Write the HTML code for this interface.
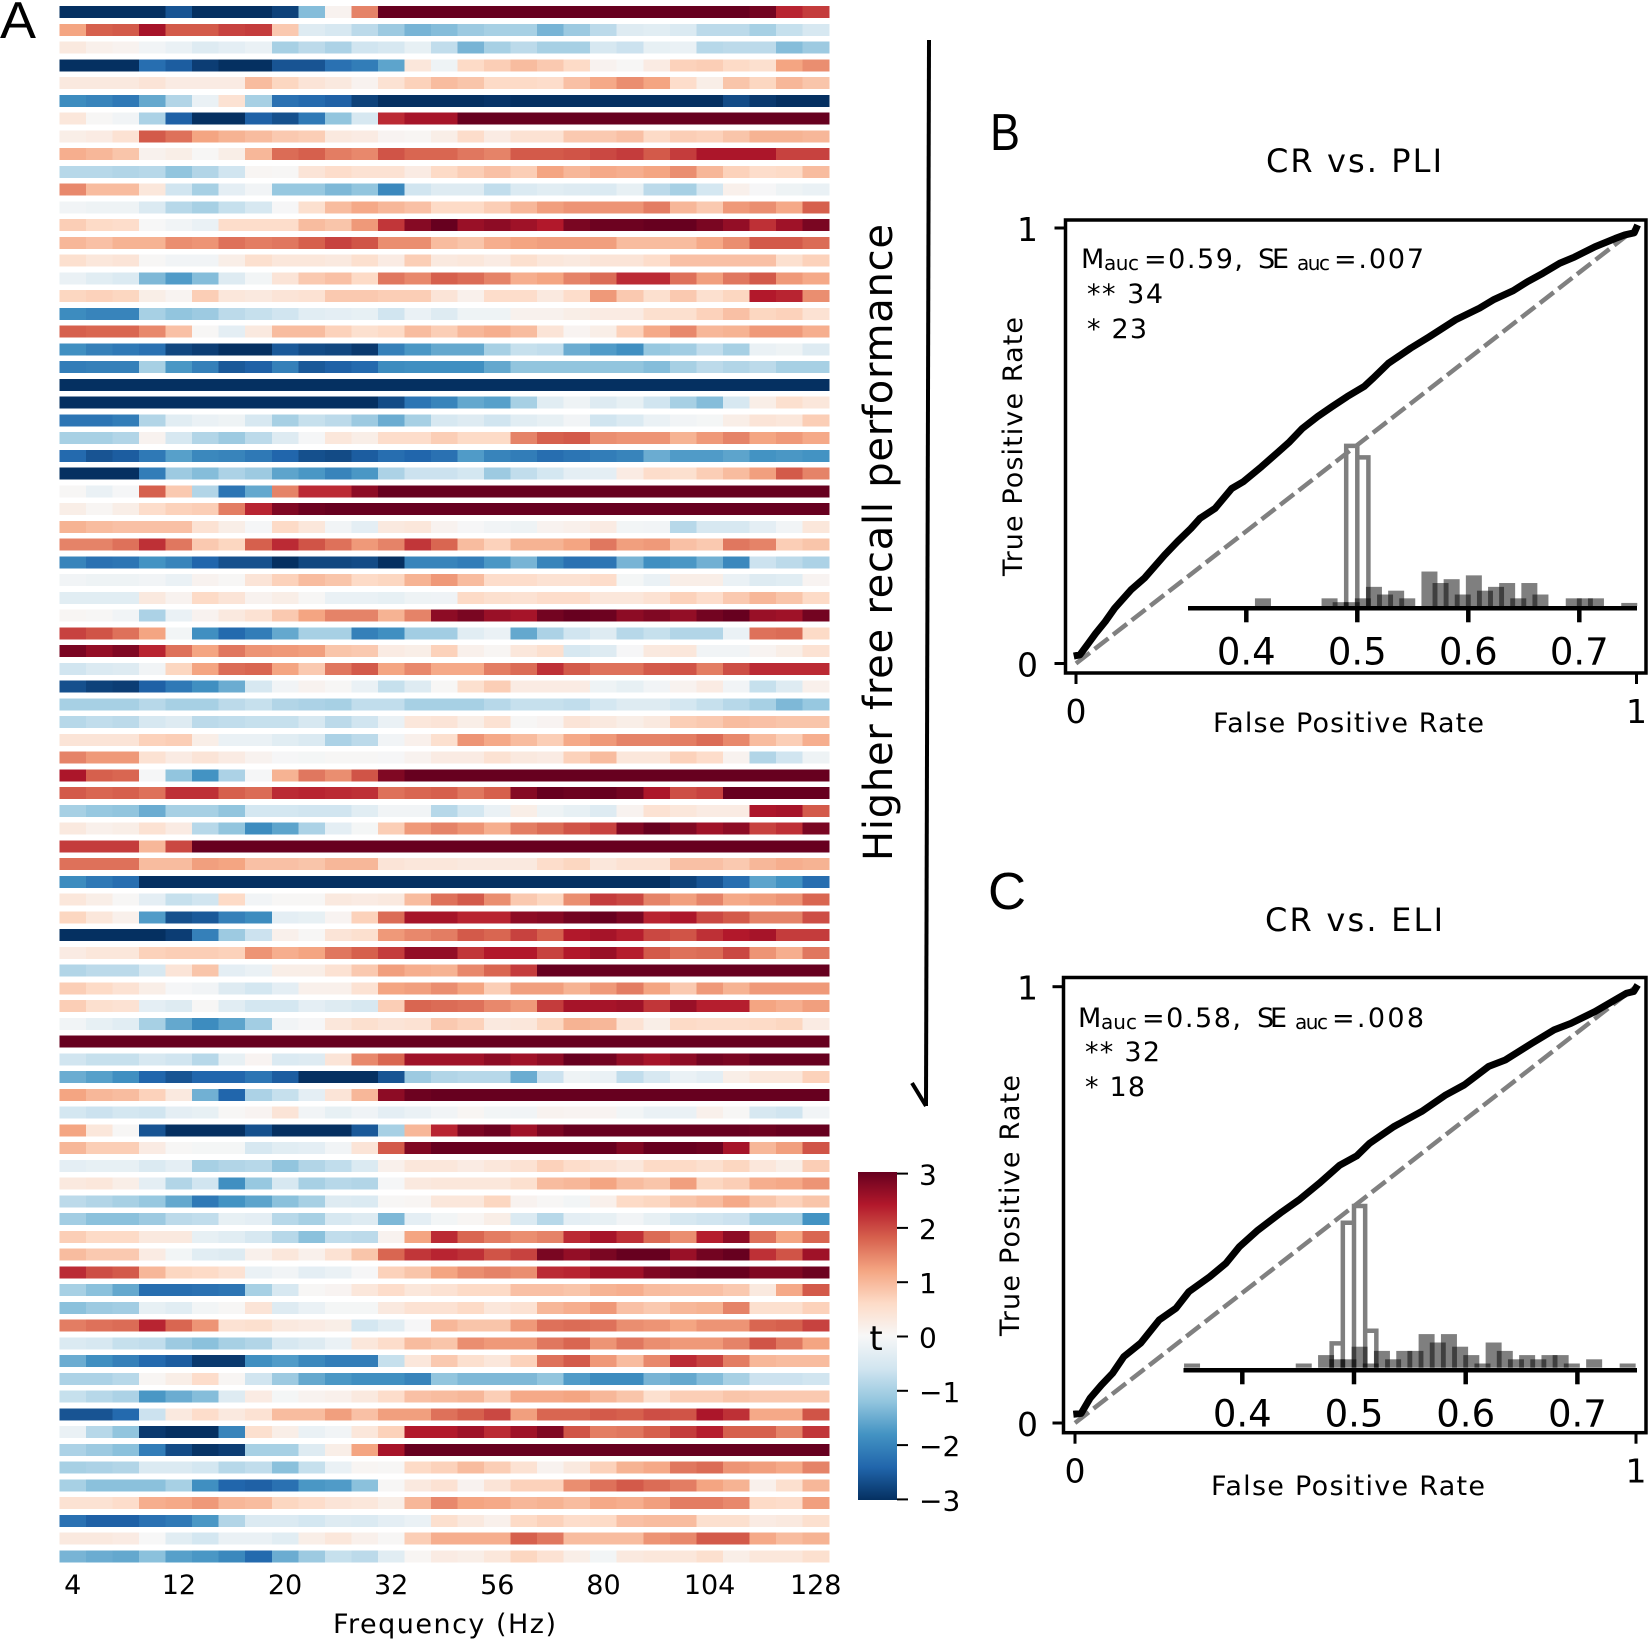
<!DOCTYPE html>
<html lang="en">
<head>
<meta charset="utf-8">
<title>Free recall classifier figure</title>
<style>
html,body{margin:0;padding:0;background:#fff;}
svg{display:block;}
text{font-family:"DejaVu Sans","Liberation Sans",sans-serif;fill:#000;}
.panel{font-family:"Liberation Sans",sans-serif;font-size:52px;}
</style>
</head>
<body>
<svg id="fig" xmlns="http://www.w3.org/2000/svg" width="1650" height="1641" viewBox="0 0 1650 1641">
  <rect x="0" y="0" width="1650" height="1641" fill="#fff"/>
  <defs>
    <linearGradient id="cbGrad" x1="0" y1="0" x2="0" y2="1">
      <stop offset="0" stop-color="#67001f"/><stop offset="0.1" stop-color="#b2182b"/>
      <stop offset="0.2" stop-color="#d6604d"/><stop offset="0.3" stop-color="#f4a582"/>
      <stop offset="0.4" stop-color="#fddbc7"/><stop offset="0.5" stop-color="#f7f7f7"/>
      <stop offset="0.6" stop-color="#d1e5f0"/><stop offset="0.7" stop-color="#92c5de"/>
      <stop offset="0.8" stop-color="#4393c3"/><stop offset="0.9" stop-color="#2166ac"/>
      <stop offset="1" stop-color="#053061"/>
    </linearGradient>
  </defs>

  <text class="panel" x="0" y="38" textLength="36" lengthAdjust="spacingAndGlyphs">A</text>
  <text class="panel" x="990" y="150" textLength="30" lengthAdjust="spacingAndGlyphs">B</text>
  <text class="panel" x="988" y="909" textLength="38" lengthAdjust="spacingAndGlyphs">C</text>

  <g id="heat"></g>
  <g id="heatTicks"></g>
  <text x="333" y="1633" font-size="27" textLength="223">Frequency (Hz)</text>

  <line x1="929" y1="40" x2="926" y2="1106" stroke="#000" stroke-width="4"/>
  <line x1="912" y1="1083" x2="926" y2="1106" stroke="#000" stroke-width="4"/>
  <text transform="translate(892,861) rotate(-90)" font-size="40" textLength="637">Higher free recall performance</text>

  <g id="cbar">
    <rect x="858" y="1172" width="39" height="328" fill="url(#cbGrad)"/>
    <text x="876" y="1350" font-size="34" text-anchor="middle">t</text>
  </g>

  <g id="panelB">
    <text x="1266" y="172" font-size="32" textLength="176">CR vs. PLI</text>
    <text transform="translate(1022,576) rotate(-90)" font-size="27" textLength="259">True Positive Rate</text>
    <text x="1213" y="732" font-size="27" textLength="271">False Positive Rate</text>
    <g font-size="27">
      <text x="1081" y="268" textLength="22">M</text>
      <text x="1104" y="270" font-size="20" textLength="35">auc</text>
      <text x="1144" y="268" textLength="99">=0.59,</text>
      <text x="1258" y="268" textLength="31">SE</text>
      <text x="1297" y="270" font-size="20" textLength="33">auc</text>
      <text x="1334" y="268" textLength="90">=.007</text>
      <text x="1087" y="303" xml:space="preserve" textLength="76">** 34</text>
      <text x="1087" y="338" xml:space="preserve" textLength="60">* 23</text>
    </g>
  </g>

  <g id="panelC">
    <text x="1265" y="931" font-size="32" textLength="178">CR vs. ELI</text>
    <text transform="translate(1019,1336) rotate(-90)" font-size="27" textLength="261">True Positive Rate</text>
    <text x="1211" y="1495" font-size="27" textLength="274">False Positive Rate</text>
    <g font-size="27">
      <text x="1078" y="1027" textLength="22">M</text>
      <text x="1101" y="1029" font-size="20" textLength="36">auc</text>
      <text x="1142" y="1027" textLength="99">=0.58,</text>
      <text x="1257" y="1027" textLength="30">SE</text>
      <text x="1295" y="1029" font-size="20" textLength="33">auc</text>
      <text x="1332" y="1027" textLength="92">=.008</text>
      <text x="1085" y="1061" xml:space="preserve" textLength="75">** 32</text>
      <text x="1085" y="1096" xml:space="preserve" textLength="60">* 18</text>
    </g>
  </g>
</svg>

<script>
const frequencyTickLabels = ['4','12','20','32','56','80','104','128'];
const frequencyTickColumns = [0,4,8,12,16,20,24,28];
const colorbarTickValues = [3,2,1,0,-1,-2,-3];
const colorbarTickLabels = ['3','2','1','0','\u22121','\u22122','\u22123'];

const tValues = [
[-3,-3,-3,-3,-2.6,-3,-3,-3,-2.8,-1.3,.1,1.5,3,3,3,3,3,3,3,3,3,3,3,3,3,3,2.9,2.3,2.1],
[1.2,1.8,1.85,2.5,1.85,1.85,2.05,2.1,.8,-.4,-.5,-.8,-1.1,-1.4,-1.3,-1.1,-1,-1,-1.4,-1.1,-.8,-.4,-.35,-.45,-.8,-.8,-1,-.7,-.5],
[.3,.15,.1,-.1,-.2,-.4,-.3,-.2,-1,-.8,-.95,-.6,-.5,-.25,-.75,-1.4,-1,-.8,-1,-1,-.5,-.65,-.25,-.2,-.85,-.8,-.8,-1.3,-1.1],
[-3,-3,-3,-2.3,-2.5,-2.85,-3,-3,-2.6,-2.6,-2.25,-2.1,-1.6,.35,-.15,.6,.75,.95,.8,.6,.1,.03,.25,.7,.75,.6,.5,1.2,1.4],
[.3,.3,.3,.4,.25,.25,.25,.95,.65,.4,.3,.1,.45,.7,.95,.85,.6,.6,.55,.9,1.15,1.4,1.2,.55,.2,.85,.65,1,.85],
[-1.9,-2,-2.15,-1.55,-.9,-.2,.45,-1,-2.25,-2.35,-2.45,-2.8,-3,-3,-3,-3,-2.95,-3,-3,-3,-3,-3,-3,-3,-3,-2.7,-2.9,-3,-3],
[.35,.02,-.1,-.95,-2.45,-3,-3,-2.45,-2.65,-2.15,-1.2,-.5,2.25,2.5,2.5,3,3,3,3,3,3,3,3,3,3,3,3,3,3],
[.2,.25,.45,1.85,1.65,1.2,1.05,.95,.8,.75,.3,.25,.08,.05,.2,.55,.25,.45,.45,.8,.8,.9,.6,.75,.7,.85,1.05,1.05,1],
[1.1,1,.85,.12,.2,.03,.2,1,1.7,1.8,1.55,1.45,1.9,1.75,1.75,1.6,1.5,1.85,1.85,1.9,2,2.1,1.85,2.1,2.45,2.45,2.45,2.05,2.05],
[-.85,-.85,-.9,-.85,-1.2,-.9,-.6,.05,.02,.4,.55,.45,.45,.25,.6,.75,.9,.75,1.2,1,1.15,1.1,1.2,1.4,1,.7,.55,.6,.95],
[1.45,.95,.95,.35,-.6,-1,-.3,-.1,-1.15,-1.15,-1.35,-1.2,-1.95,-.6,-.4,-.4,-.75,-.45,-.35,-.4,-.45,-.25,-.8,-1,-.55,.15,-.02,-.15,-.2],
[-.1,-.15,-.15,-.45,-.85,-1,-.7,-.5,-.02,.5,.95,1.15,1,.9,.6,.6,.75,1,1.25,1.35,1.35,1.35,1.55,1,.8,1.3,1.4,1.15,1.8],
[.75,.6,.55,0,-.1,-.2,.55,.55,.55,.95,.85,1.3,2.15,2.75,3,2.6,2.7,2.55,2.4,2.85,2.95,2.95,3,3,2.85,2.65,2.2,2.55,2.85],
[1,.9,1.05,1.05,1.4,1.35,1.65,1.55,1.6,1.8,2.05,1.9,1.4,1.4,.95,.85,1.1,1.2,1.25,1.25,1.25,.95,.95,.95,1.15,1.4,1.85,1.85,1.7],
[.5,.35,.4,.03,-.1,-.1,.2,.5,.35,.35,.3,.5,.25,.75,.3,.35,.25,.5,.35,.3,.4,.4,.55,.9,.9,.9,.9,.5,.7],
[-.2,-.35,-.45,-1.35,-1.7,-1.3,-.4,-.08,.4,.8,.9,.6,1.6,1.45,1.8,1.7,1.5,1.1,1.2,1.5,1.7,2.25,2.25,1.65,1.25,1.6,1.85,1.3,1.15],
[.65,.7,.65,.2,.08,.75,.35,.3,.4,.45,.8,.8,.75,.75,.4,.15,.55,.55,.3,.55,1.3,.8,.5,.8,.5,.65,2.4,2.3,1.4],
[-1.9,-2,-2,-1,-1.2,-1.1,-.8,-.7,-.6,-.35,-.3,-.25,-.6,-.2,-.4,-.15,-.15,.12,.12,.2,.25,.25,.5,.5,.7,.9,.65,.7,.45],
[1.8,1.75,1.75,1.45,.9,.03,-.3,.3,.95,.95,.7,.5,.6,.95,.75,1,1.1,.95,.4,.08,.2,.7,1.15,1.45,1,1.05,1.3,1.3,1.1],
[-1.85,-2.05,-2.15,-2.25,-2.75,-2.85,-3,-3,-2.55,-2.7,-2.75,-2.9,-2.05,-1.75,-1.55,-1.55,-1,-.7,-.75,-1.5,-1.7,-1.85,-1.15,-1.05,-.75,-1,-.2,-.15,-.4],
[-2.1,-2.05,-2.05,-1,-1.75,-2.05,-2.55,-2.45,-2.05,-2.55,-2.45,-2.35,-1.9,-1.85,-1.85,-1.85,-1.55,-1.2,-1.2,-1.2,-1.2,-1.2,-1.3,-1,-.8,-.9,-.8,-1,-1],
[-3,-3,-3,-3,-3,-3,-3,-3,-3,-3,-3,-3,-3,-3,-3,-3,-3,-3,-3,-3,-3,-3,-3,-3,-3,-3,-3,-3,-3],
[-3,-3,-3,-3,-3,-3,-3,-3,-3,-3,-3,-3,-2.7,-2.2,-2,-1.55,-1.65,-1,-.35,-.15,-.4,-.25,-.6,-1,-1.3,-.5,.2,.5,.35],
[-2.2,-2.2,-2.1,-.9,-.35,-.2,-.15,-.5,-1,-.7,-.8,-1.1,-1.5,-1,-.5,-.4,-.6,-.35,-.25,-.1,-.6,-.45,-.2,-.1,-.05,.2,.4,.35,.75],
[-1,-1,-.9,.1,-.5,-.9,-1.1,-.8,-.4,-.03,.35,.2,.55,.55,.75,.6,.6,1.5,1.8,1.85,1.4,1.35,1.35,1.05,1.3,1.5,1.2,1.3,1.15],
[-2.35,-2.6,-2.5,-2.15,-1.65,-1.95,-2,-2.15,-2.4,-2.65,-2.7,-2.5,-2.3,-2.4,-2.25,-1.7,-2,-2.1,-2.3,-2.2,-2.1,-2,-1.5,-1.7,-1.7,-1.6,-1.8,-1.75,-1.8],
[-3,-3,-3,-2.1,-1.1,-1.3,-.95,-1.1,-1.6,-1.75,-2,-1.75,-.95,-.65,-.65,-.55,-1.1,-.75,-.55,-.3,-.3,.25,.55,.5,.75,.95,1.25,1.85,1.5],
[.02,-.2,-.03,1.8,.8,-.9,-2.2,-1.55,1.5,2.25,2.25,2.7,3,3,3,3,3,3,3,3,3,3,3,3,3,3,3,3,3],
[.2,.05,.2,.55,.7,.75,1.55,2.3,2.8,2.95,3,3,3,3,3,3,3,3,3,3,3,3,3,3,3,3,3,3,3],
[1.05,.95,.9,.9,.9,.45,.2,-.03,.6,.35,-.1,-.3,.3,.35,.1,-.02,-.1,-.15,.1,.15,.25,-.08,-.1,-.85,-.5,-.5,-.3,-.1,.35],
[1.5,1.5,1.65,2.2,1.6,.8,.65,1.8,2.25,1.9,1.65,1.3,1.5,2.15,1.75,.95,.7,1.05,1.05,1.2,1.6,1.25,1.3,.9,.8,1.6,1.5,.75,.85],
[-2,-2.25,-2.2,-1.8,-2,-2.4,-2.65,-2.65,-3,-2.75,-2.75,-2.7,-3,-2,-2,-2.1,-1.75,-1.4,-2,-2.25,-2.2,-1.4,-1.85,-1.75,-1.45,-1.95,-.65,-.8,-.95],
[-.1,-.15,-.15,-.1,-.2,.1,.03,.4,.7,.95,.85,.6,.65,1.05,1.3,.95,.55,.55,.45,.45,.55,-.05,-.2,.2,.2,-.2,-.4,-.35,.08],
[-.35,-.35,-.35,.3,.1,.6,.4,.1,.2,.02,-.2,-.2,-.25,-.15,-.12,.6,.5,.45,.55,.55,.35,.35,.45,.7,.55,.8,1,.85,.6],
[.05,.02,-.1,-.95,-.2,.1,.3,.45,.8,1.2,1.5,1.5,1.05,1.5,2.7,2.85,2.6,2.5,2.9,3,2.95,2.7,2.8,2.65,2.9,3,2.6,2.55,2.9],
[2.05,1.9,1.65,1.2,-.08,-1.85,-2.35,-2.1,-1.55,-1,-1,-2.05,-1.85,-1.05,-1.05,-.35,-.2,-1.55,-.95,-.6,-.4,-.85,-.7,-.9,-.9,-.2,1.65,1.7,.6],
[2.85,2.65,2.8,2.3,1.65,1.2,1.6,1.35,1.3,1.25,.85,.8,.25,.2,.7,.15,.05,.35,.5,-.5,-.4,-.02,.3,.35,-.1,-.1,.08,.2,.45],
[-.6,-.45,-.4,-.1,.65,1.2,1.7,1.75,1.2,.8,1.6,1.85,1.2,1.45,1.15,1.15,1.55,1.7,2.2,1.85,1.65,1.65,1.85,1.9,1.55,1.95,2.25,2.25,2.25],
[-2.65,-2.8,-2.85,-2.45,-2.15,-1.85,-1.5,-.5,-.1,.1,.03,-.2,-.7,-.4,.03,.5,.75,.25,.25,.25,-.15,-.25,-.1,.1,.25,-.1,-.7,-.4,.15],
[-1,-1,-1,-.85,-1,-1,-.8,-.7,-.9,-.95,-1,-.75,-.75,-1,-1,-1,-.85,-.7,-.7,-.75,-.55,-.4,-.4,-.55,-.7,-.85,-1,-1.35,-1.15],
[-.85,-.75,-.8,-.5,-.4,-.8,-.75,-.7,-.7,-.5,-.8,-.6,-.2,.35,.4,.2,.45,.03,.08,.4,.3,.2,.3,.75,.8,.95,.9,.85,.85],
[.4,.4,.4,.7,.75,.2,-.2,-.2,-.35,-.45,-.95,-.8,-.1,.15,.5,1.35,1.15,.95,.75,1.15,1.3,1.5,1.5,1.55,1.7,1.45,.95,.75,1.1],
[1.5,1.3,1.3,.45,.25,.4,.25,.1,-.02,-.05,.02,.02,-.02,.1,.25,.25,.45,.3,.25,.7,.95,.35,.35,.7,.55,.1,-.9,-.6,-.15],
[2.45,1.8,1.75,-.03,-1.2,-1.8,-.95,-.03,1.05,1.6,1.4,1.9,2.8,3,3,3,3,3,3,3,3,3,3,3,3,3,3,3,3],
[1.85,1.75,1.8,1.65,2.2,2.2,1.8,1.7,2.25,2.3,2.25,2.2,1.65,1.75,1.8,1.6,1.8,2.75,3,2.95,3,2.9,2.45,1.95,2.05,3,3,3,3],
[-1,-1.15,-1.2,-1.5,-1,-1,-1.2,-.55,-.55,-.6,-.6,-.35,-.1,-.1,-.85,-.55,-.2,.2,-.15,-.25,-.4,.1,.45,.35,.25,.25,2.45,2.5,1.85],
[.3,.15,.2,.45,.25,-.85,-1.2,-1.9,-1.6,-.95,-.3,-.05,.75,1.3,1.5,1.35,1.1,1.55,1.7,1.9,2.05,2.8,3,2.8,2.55,2.7,2.05,2.2,2.85],
[2.1,2.1,2.1,1,2,3,3,3,3,3,3,3,3,3,3,3,3,3,3,3,3,3,3,3,3,3,3,3,3],
[1.65,1.65,1.65,.95,.95,1.25,1.2,.9,.9,.85,1,1,.4,.35,.35,.3,.3,.3,.55,.65,.35,.45,.45,.9,.9,.8,1,1.1,1.05],
[-1.9,-2.15,-2.3,-3,-3,-3,-3,-3,-3,-3,-3,-3,-3,-3,-3,-3,-3,-3,-3,-3,-3,-3,-3,-2.8,-2.6,-2.3,-1.6,-1.8,-2.3],
[.35,.2,.03,-.3,-.7,-.6,.6,-.1,.03,.03,.3,.25,.3,.95,1.65,1.85,1.4,.8,.65,1.4,2.1,2,1.5,1.25,1.5,1.15,1.25,1.35,1.75],
[.65,.35,.15,-1.7,-2.65,-2.55,-2.05,-1.9,-.3,-.25,.08,.7,1.7,2.5,2.5,2.3,2.3,2.7,2.75,2.9,3,2.85,2.3,2.45,2,1.85,1.5,1.5,1.95],
[-3,-3,-3,-3,-2.85,-2.05,-1.1,-.65,.15,.03,.4,.5,1.3,1.45,1.55,1.85,1.75,2.05,1.8,2.4,2.5,2.35,2,1.9,2.2,2.4,2.5,2.1,2.1],
[.25,.35,.35,.7,.75,.75,.7,1.35,1.1,1.2,1.6,1.8,2.1,2.65,2.65,2.15,2.4,2.4,2.05,2.4,2.6,2.35,1.85,1.65,1.7,2,1.35,1.1,1.6],
[-.9,-.8,-.8,-.5,.4,.85,-.3,-.2,.2,.2,.45,.8,1.25,1.1,1.05,1.45,1.75,2.1,3,3,3,3,3,3,3,3,3,3,3],
[.75,.6,.45,.2,-.03,-.1,-.4,-.55,-.3,.15,.15,.45,1.2,1.25,1.4,1.2,.75,1.25,1.25,1.05,1.3,1.55,1.2,.8,1.3,1.05,1.3,1.3,1.3],
[.75,.5,.45,-.3,-.4,.03,-.35,-.55,-.55,-.3,-.4,-.5,.75,1.75,1.7,1.65,1.45,1.3,2.1,2.5,2.5,2.55,2.15,2.6,2.35,2.35,1.2,1.1,1.25],
[-.1,-.25,-.35,-1,-1.55,-1.9,-1.6,-1.05,-.1,-.02,.35,.5,.4,.45,.8,.7,.3,.35,.65,1.05,1,.45,.2,.6,.55,.55,.6,.65,.25],
[3,3,3,3,3,3,3,3,3,3,3,3,3,3,3,3,3,3,3,3,3,3,3,3,3,3,3,3,3],
[-.6,-.7,-.7,-.5,-.6,-.85,-.25,.08,-.45,-.4,.4,1.45,1.75,2.55,2.55,2.55,2.7,2.55,2.7,3,2.9,2.65,2.5,2.7,2.9,2.85,3,3,3],
[-1.5,-1.65,-1.85,-2.4,-2.6,-2.4,-2.4,-2.2,-2.5,-3,-3,-3,-2.6,-1.1,-.9,-.85,-.85,-1.5,-.65,-.15,-.2,-.75,-.5,-.2,-.3,.2,.35,.35,.7],
[1.2,1,.95,.7,.3,-1.45,-2.4,-.95,-.7,-.3,.4,1,2.7,2.95,3,3,3,3,3,3,3,3,3,3,3,3,3,3,3],
[-.55,-.65,-.55,-.6,-.3,-.25,.02,.08,.4,-.1,-.25,-.12,-.3,-.2,-.1,.05,-.08,-.1,.1,.08,.08,-.08,-.2,-.2,.15,.03,-.5,-.6,-.1],
[1.2,.35,.02,-2.6,-3,-3,-3,-2.65,-3,-3,-3,-2.55,-1,1,2.3,2.85,2.95,2.55,2.85,3,3,3,3,3,3,3,2.95,3,3],
[1,.75,.75,.25,.02,-.05,-.05,-.5,-.35,-.3,-.1,.4,1.85,2.8,3,3,3,3,3,3,3,2.8,3,3,2.95,2.5,1,1.25,1.9],
[-.3,-.25,-.25,-.45,-.3,-1,-.9,-.85,-1.2,-.9,-.75,-.45,.15,.35,.35,.25,.35,.45,.7,.55,.45,.35,.6,.6,.5,.65,.35,.2,.75],
[.3,.35,.2,-.3,-.9,-.6,-1.85,-1.15,-.5,-1,-.85,-.9,-.03,.3,.35,.35,.35,.5,.95,1,1.2,.95,.85,1.25,.65,.75,1.1,1.15,1.35],
[-.8,-.9,-1,-1.15,-1.55,-2.15,-1.8,-1.6,-1.25,-1,-.4,-.45,.03,.05,.35,.35,.65,.1,.02,-.08,.15,.6,.65,.85,.95,1.15,.85,.7,.85],
[-1.05,-1.25,-1.25,-1.1,-.8,-.75,-.25,-.3,-.85,-1,-.5,-.4,-1.35,-.3,-.08,.05,.2,-.45,-.85,-.3,-.25,-.1,-.25,-.5,-.6,-.65,-1,-1,-1.8],
[.75,.6,.6,.3,.3,-.25,-.35,-.5,-.85,-1.25,-.75,-.8,.1,1.2,2.25,1.75,1.55,1.4,1.5,2.25,2.5,2.2,1.7,1.4,2.35,2.7,1.65,1.2,1.75],
[.95,.8,.8,.25,-.08,-.35,-.4,.15,.35,.15,.45,.85,1.75,2.15,2.3,2.2,1.9,2.05,2.85,2.65,2.85,3,3,2.6,2.9,3,2.2,1.9,2.55],
[2.25,1.95,1.85,1,.65,.6,.45,-.2,-.1,-.3,-.2,-.02,.7,.85,1.2,1.4,1.5,1.4,2.25,2.3,2.55,2.55,2.8,2.95,3,3,2.8,2.8,2.95],
[-1,-1.25,-1.55,-2.3,-2.3,-2.25,-2.2,-1,-.5,.03,.08,.35,.55,.35,.45,.6,.6,.9,.9,.85,1.05,1.1,.95,.9,.9,.8,.3,1.15,1.85],
[-1.25,-1.1,-1.05,-.25,-.35,-.08,.03,.4,-.4,-.2,-.05,-.05,.3,.45,.45,.6,.35,.45,1,1.1,1.3,.9,.8,1,1.05,1.5,.5,.5,.7],
[1.55,1.65,1.7,2.3,1.75,1.35,.45,.5,.3,.25,.2,-.55,-.35,-.02,1,.85,.85,1.3,1.65,1.7,1.65,1.4,1.35,1.2,1.35,1.35,1.75,1.8,2.05],
[-.45,-.5,-.7,-.75,-1.1,-1.25,-1,-.9,-.5,-.4,-.2,.35,.55,.95,.85,1.4,1.3,1.3,1.6,1.75,1.35,1.6,1.4,1.3,1.3,1.5,1.9,1.6,1.2],
[-1.5,-1.85,-2.05,-2.35,-2.5,-2.9,-2.9,-1.85,-1.7,-1.95,-2.1,-2.1,-.7,.35,.8,.5,.35,.7,1.65,1.85,1.3,.95,1.45,2.25,2.05,1.55,1,.95,.95],
[-.95,-.95,-.85,.05,.2,.55,.05,-.6,-1.1,-1.55,-1.75,-1.85,-1.85,-2,-1.2,-1.35,-1.35,-1.35,-1.2,-1.7,-1.9,-1.9,-1.4,-1.55,-1.3,-1,-.65,-.65,-.6],
[-.7,-.85,-.95,-1.75,-1.5,-1.3,-.4,.25,-.05,.1,.15,.3,.55,.9,.95,1,.75,1.15,1.15,1.2,1,.85,.5,.75,.75,.85,.8,.8,.8],
[-2.6,-2.6,-2.35,-.65,.3,.55,.3,.45,.95,.95,1.25,.9,1.25,1.25,1.65,1.8,2,1.25,1.75,1.75,1.85,1.8,1.95,1.9,2.45,2.2,1.15,1.15,1.9],
[-.2,-.85,-1.2,-2.9,-3,-3,-2,.5,.2,-.2,-.1,.35,.7,2.4,2.4,2.55,2.25,2.55,2.8,1.9,1.55,1.6,1.8,2.1,2.35,1.8,1.8,1.5,2.15],
[-.95,-1.1,-1.25,-2.1,-2.7,-2.95,-2.85,-1,-1,-.4,.2,1.2,2.5,3,3,3,3,3,3,3,3,3,3,3,3,3,3,3,3],
[-1,-.95,-.9,-.45,-.45,-.55,-.85,-.75,-1.25,-.7,-.2,.05,.03,.6,.7,.95,.75,.45,.1,.3,.7,1.05,1.15,1.6,1.7,1.35,1.25,1.15,1.5],
[-1,-1.25,-1.25,-1.25,-1,-1.85,-2.4,-2.45,-2.25,-1.75,-1.7,-1.25,.03,.3,.45,.1,.4,.7,.7,1.4,1.65,1.85,1.7,1.55,1.2,1.05,.15,.5,1],
[.45,.45,.55,1.1,1.15,1.3,1,.95,.65,.55,.4,.35,.2,1,1.45,1.2,1.15,1,1.05,.95,1.15,1.1,1.25,1.55,1.55,1.45,.6,.55,1.25],
[-2.25,-2.45,-2.45,-2.25,-2.15,-1.75,-.9,-.45,-.45,-.55,-.4,-.45,-.3,-.2,.5,.3,.15,.6,.7,.55,.6,.9,.95,.95,.5,.5,.25,.3,.5],
[.3,.3,.25,0,-.35,-.55,-.2,-.2,-.35,.2,.35,.15,.02,.75,1.1,1.1,1.1,1.8,1.6,.95,.95,.95,1.35,1.45,1.85,1.85,1.15,.95,1.05],
[-1.4,-1.5,-1.55,-1.25,-1.65,-1.75,-1.95,-2.35,-1.5,-1.1,-.7,-.8,-.35,.05,.25,.2,.35,.65,.45,.2,-.08,.3,.35,.35,.5,.2,.35,.35,.5]
];

const rocPliFpr = [-.004,.007,.022,.035,.052,.069,.098,.122,.158,.181,.205,.221,.248,.278,.298,.331,.361,.381,.404,.431,.457,.484,.514,.53,.557,.597,.63,.677,.72,.746,.78,.806,.833,.863,.889,.926,.962,.979,.996,1.002];
const rocPliTpr = [.017,.02,.046,.069,.096,.127,.169,.196,.249,.28,.31,.333,.356,.402,.417,.452,.486,.509,.54,.567,.59,.613,.636,.655,.689,.724,.75,.789,.816,.836,.856,.877,.896,.919,.933,.957,.976,.984,.989,1.007];
const rocEliFpr = [-.003,.011,.027,.047,.067,.087,.117,.15,.18,.203,.24,.269,.293,.326,.369,.399,.435,.472,.502,.525,.568,.618,.661,.694,.737,.767,.814,.854,.884,.927,.963,.983,.996,1.003];
const rocEliTpr = [.02,.022,.057,.087,.114,.152,.183,.236,.263,.301,.335,.366,.404,.442,.484,.511,.549,.591,.612,.641,.679,.714,.752,.775,.817,.832,.87,.901,.916,.943,.97,.985,.989,1.004];
const diagonalX = [0,1];
const diagonalY = [0,1];

const histPliCenters = [.415,.475,.485,.495,.505,.515,.525,.535,.545,.565,.575,.585,.595,.605,.615,.625,.635,.645,.655,.665,.695,.705,.715,.745];
const histPliCounts  = [2,2,1,1,2,5,3,4,2,9,6,7,3,8,4,5,6,2,6,3,2,2,2,.8];
const histEliCenters = [.355,.455,.475,.485,.495,.505,.515,.525,.535,.545,.555,.565,.575,.585,.595,.605,.615,.625,.635,.645,.655,.665,.675,.685,.695,.715,.745];
const histEliCounts  = [1,1,3,2,2,5,1,4,2,4,4,8,6,8,5,3,1,6,4,2,3,2,3,3,1,2,1];
const nullPliEdges  = [.49,.50,.51];
const nullPliCounts = [41.8,38.8];
const nullEliEdges  = [.48,.49,.50,.51,.52];
const nullEliCounts = [5.8,34.5,38.5,8.8];
const insetTickValues = [.4,.5,.6,.7];
const insetTickLabels = ['0.4','0.5','0.6','0.7'];

const NS = 'http://www.w3.org/2000/svg';
function mk(parent, tag, attrs, txt) {
  const el = document.createElementNS(NS, tag);
  for (const k in attrs) el.setAttribute(k, attrs[k]);
  if (txt !== undefined) el.textContent = txt;
  parent.appendChild(el);
  return el;
}

const stops = ['#053061','#2166ac','#4393c3','#92c5de','#d1e5f0','#f7f7f7','#fddbc7','#f4a582','#d6604d','#b2182b','#67001f'].map(function (h) {
  return [parseInt(h.slice(1,3),16), parseInt(h.slice(3,5),16), parseInt(h.slice(5,7),16)];
});
function colorOf(t) {
  const u = Math.max(0, Math.min(1, (t + 3) / 6)) * 10;
  const i = Math.min(9, Math.floor(u));
  const f = u - i;
  const c = [0,1,2].map(function (k) { return Math.round(stops[i][k] + (stops[i+1][k] - stops[i][k]) * f); });
  return 'rgb(' + c.join(',') + ')';
}

/* heatmap */
const heatLeft = 59.5, heatCellW = (829 - 59.5) / 29, heatTop = 6.1, heatStep = 17.75, heatCellH = 11.9;
function colX(i) { return heatLeft + i * heatCellW; }
function rowY(r) { return heatTop + r * heatStep; }

const heat = document.getElementById('heat');
tValues.forEach(function (row, r) {
  const g = mk(heat, 'g', {'shape-rendering':'crispEdges'});
  
  
  row.forEach(function (v, c) {
    const cell = mk(g, 'rect', {x: colX(c), y: rowY(r), width: heatCellW + 0.4, height: heatCellH, fill: colorOf(v)});
    
    
  });
});

const heatTicks = document.getElementById('heatTicks');
frequencyTickLabels.forEach(function (lab, i) {
  const t = mk(heatTicks, 'text', {x: colX(frequencyTickColumns[i]) + heatCellW / 2, y: 1594, 'font-size': 27, 'text-anchor': 'middle'}, lab);
  
  
});

/* colorbar */
const cbar = document.getElementById('cbar');
function cbY(v) { return 1336.5 - v * 54.3; }
colorbarTickValues.forEach(function (v, i) {
  const tick = mk(cbar, 'line', {x1: 897, x2: 908, y1: cbY(v), y2: cbY(v), stroke: '#000', 'stroke-width': 2});
  
  
  const lab = mk(cbar, 'text', {x: 919, y: cbY(v) + 11, 'font-size': 28}, colorbarTickLabels[i]);
  
  
});

/* ROC panels */
function drawRoc(o) {
  const root = document.getElementById(o.id);
  const sx = function (v) { return o.x0 + v * (o.x1 - o.x0); };
  const sy = function (v) { return o.y0 + v * (o.y1 - o.y0); };
  const ix = function (v) { return o.ix5 + (v - .5) * o.ixScale; };
  const iy = function (c) { return o.base - c * o.unit; };

  const frame = mk(root, 'rect', {x: o.fl, y: o.ft, width: o.fr - o.fl, height: o.fb - o.ft, fill: 'none', stroke: '#000', 'stroke-width': 3.5});
  
  

  [0, 1].forEach(function (v) {
    const xt = mk(root, 'line', {x1: sx(v), x2: sx(v), y1: o.fb, y2: o.fb + 11, stroke: '#000', 'stroke-width': 3});
    
    
    const yt = mk(root, 'line', {x1: o.fl - 11, x2: o.fl, y1: sy(v), y2: sy(v), stroke: '#000', 'stroke-width': 3});
    
    
    const xl = mk(root, 'text', {x: sx(v), y: o.fb + 50, 'font-size': 33, 'text-anchor': 'middle'}, String(v));
    
    
    const yl = mk(root, 'text', {x: 1038, y: sy(v) + 13, 'font-size': 33, 'text-anchor': 'end'}, String(v));
    
    
  });

  /* inset histogram */
  o.centers.forEach(function (c, i) {
    const bar = mk(root, 'rect', {x: ix(c) - 8, y: iy(o.counts[i]), width: 16, height: o.counts[i] * o.unit, fill: '#000', 'fill-opacity': 0.5});
    
    
  });
  let d = 'M' + ix(o.nullEdges[0]) + ' ' + iy(0);
  o.nullCounts.forEach(function (c, i) {
    d += ' L' + ix(o.nullEdges[i]) + ' ' + iy(c) + ' L' + ix(o.nullEdges[i + 1]) + ' ' + iy(c) + ' L' + ix(o.nullEdges[i + 1]) + ' ' + iy(0);
    if (i < o.nullCounts.length - 1) d += ' L' + ix(o.nullEdges[i + 1]) + ' ' + iy(o.nullCounts[i + 1]);
  });
  const nullHist = mk(root, 'path', {d: d, fill: 'none', stroke: '#000', 'stroke-opacity': 0.5, 'stroke-width': 4.5});
  
  

  const axis = mk(root, 'line', {x1: o.axL, x2: o.axR, y1: o.axY, y2: o.axY, stroke: '#000', 'stroke-width': 4.5});
  
  
  insetTickValues.forEach(function (v, i) {
    const t = mk(root, 'line', {x1: ix(v), x2: ix(v), y1: o.axY, y2: o.axY + 14, stroke: '#000', 'stroke-width': 4.5});
    
    
    const l = mk(root, 'text', {x: ix(v), y: o.axY + 56, 'font-size': 37, 'text-anchor': 'middle'}, insetTickLabels[i]);
    
    
  });

  /* chance diagonal */
  const diag = mk(root, 'line', {x1: sx(diagonalX[0]), y1: sy(diagonalY[0]), x2: sx(diagonalX[1]), y2: sy(diagonalY[1]), stroke: '#808080', 'stroke-width': 4.5, 'stroke-dasharray': '17.5 6'});
  
  

  /* ROC curve */
  const pts = o.fpr.map(function (f, i) { return sx(f) + ',' + sy(o.tpr[i]); }).join(' ');
  const roc = mk(root, 'polyline', {points: pts, fill: 'none', stroke: '#000', 'stroke-width': 7, 'stroke-linejoin': 'round'});
  
  
}

drawRoc({id:'panelB', fl:1065.5, fr:1646, ft:220, fb:673, x0:1076, x1:1636.5, y0:663.5, y1:228,
  fpr:rocPliFpr, tpr:rocPliTpr, centers:histPliCenters, counts:histPliCounts,
  nullEdges:nullPliEdges, nullCounts:nullPliCounts,
  ix5:1357.3, ixScale:1110, base:606, unit:3.83, axL:1188, axR:1637, axY:608.3});
drawRoc({id:'panelC', fl:1063.5, fr:1646, ft:977.5, fb:1432.7, x0:1075, x1:1636, y0:1423, y1:986.7,
  fpr:rocEliFpr, tpr:rocEliTpr, centers:histEliCenters, counts:histEliCounts,
  nullEdges:nullEliEdges, nullCounts:nullEliCounts,
  ix5:1354, ixScale:1117, base:1367.7, unit:4.2, axL:1183.5, axR:1637, axY:1370.3});
</script>
</body>
</html>
